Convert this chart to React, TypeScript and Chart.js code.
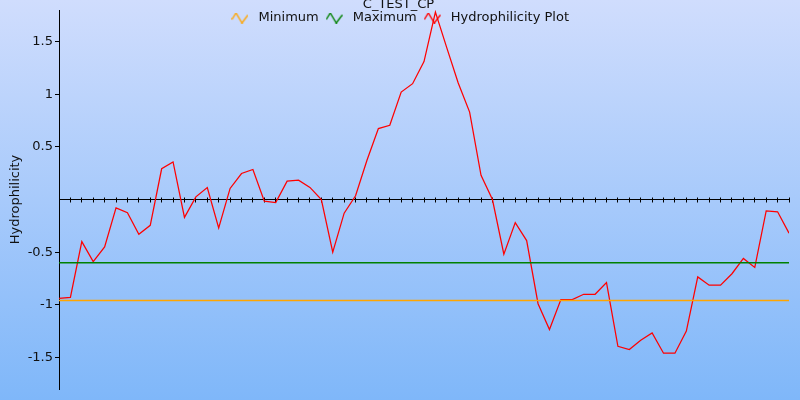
import React, { useEffect, useRef } from "react";
import { Chart, registerables } from "chart.js";

Chart.register(...registerables);

// ---- data ----
const chartTitle = "C_TEST_CP";
const yAxisTitle = "Hydrophilicity";
const seriesLabels = ["Minimum", "Maximum", "Hydrophilicity Plot"];
const seriesColors = ["#ffa500", "#008000", "#ff0000"];

const positions = [
  0, 1, 2, 3, 4, 5, 6, 7, 8, 9, 10, 11, 12, 13, 14, 15, 16, 17, 18, 19, 20,
  21, 22, 23, 24, 25, 26, 27, 28, 29, 30, 31, 32, 33, 34, 35, 36, 37, 38, 39,
  40, 41, 42, 43, 44, 45, 46, 47, 48, 49, 50, 51, 52, 53, 54, 55, 56, 57, 58,
  59, 60, 61, 62, 63, 64,
];

const hydrophilicity = [
  -0.94, -0.93, -0.4, -0.59, -0.45, -0.08, -0.125, -0.33, -0.245, 0.292,
  0.357, -0.17, 0.025, 0.114, -0.27, 0.105, 0.247, 0.285, -0.016, -0.03,
  0.174, 0.183, 0.115, 0.0, -0.5, -0.13, 0.035, 0.373, 0.674, 0.705, 1.02,
  1.1, 1.31, 1.78, 1.44, 1.107, 0.83, 0.23, 0.0, -0.52, -0.22, -0.39, -0.99,
  -1.235, -0.95, -0.95, -0.9, -0.9, -0.79, -1.395, -1.425, -1.336, -1.267,
  -1.46, -1.46, -1.25, -0.735, -0.814, -0.814, -0.705, -0.56, -0.645, -0.108,
  -0.117, -0.32,
];

const thresholdPositions = [0, 64];
const minimumLine = [-0.96, -0.96];
const maximumLine = [-0.6, -0.6];

const yTickValues = [-1.5, -1, -0.5, 0.5, 1, 1.5];
const yMin = -1.8;
const yMax = 1.8;
const xMin = 0;
const xMax = 64;

const FONT = "DejaVu Sans";
const TEXT = "#111111";

function makeIcon(color: string): HTMLCanvasElement {
  const c = document.createElement("canvas");
  c.width = 17;
  c.height = 11;
  const ctx = c.getContext("2d")!;
  ctx.strokeStyle = color;
  ctx.lineWidth = 1.4;
  ctx.beginPath();
  ctx.moveTo(0.5, 7);
  ctx.lineTo(4.5, 0.5);
  ctx.lineTo(10.5, 10.5);
  ctx.lineTo(16.5, 2.5);
  ctx.stroke();
  return c;
}

const backgroundPlugin = {
  id: "bgGradient",
  beforeDraw(chart: any) {
    const { ctx, width, height } = chart;
    const g = ctx.createLinearGradient(0, 0, 0, height);
    g.addColorStop(0, "#d0ddfd");
    g.addColorStop(1, "#7fb7f9");
    ctx.save();
    ctx.fillStyle = g;
    ctx.fillRect(0, 0, width, height);
    ctx.restore();
  },
};

// Legend overlaps the plot area (as in the reference): it takes only 2px of
// layout space, but its drawing/clip box is extended after layout.
const legendOverlayPlugin = {
  id: "legendOverlay",
  afterLayout(chart: any) {
    const lg = chart.legend;
    if (lg) {
      lg.bottom = lg.top + 26;
      lg.height = 26;
    }
  },
};

export default function App() {
  const ref = useRef<HTMLCanvasElement | null>(null);

  useEffect(() => {
    if (!ref.current) return;
    const icons = seriesColors.map(makeIcon);
    const toXY = (xs: number[], ys: number[]) =>
      xs.map((x, i) => ({ x, y: ys[i] }));

    const chart = new Chart(ref.current, {
      type: "line",
      data: {
        datasets: [
          {
            label: seriesLabels[0],
            data: toXY(thresholdPositions, minimumLine),
            borderColor: seriesColors[0],
            backgroundColor: seriesColors[0],
            borderWidth: 1.5,
            pointRadius: 0,
            pointStyle: icons[0] as any,
          },
          {
            label: seriesLabels[1],
            data: toXY(thresholdPositions, maximumLine),
            borderColor: seriesColors[1],
            backgroundColor: seriesColors[1],
            borderWidth: 1.5,
            pointRadius: 0,
            pointStyle: icons[1] as any,
          },
          {
            label: seriesLabels[2],
            data: toXY(positions, hydrophilicity),
            borderColor: seriesColors[2],
            backgroundColor: seriesColors[2],
            borderWidth: 1.25,
            pointRadius: 0,
            tension: 0,
            pointStyle: icons[2] as any,
          },
        ],
      },
      options: {
        animation: false,
        responsive: false,
        events: [],
        layout: { padding: { top: 0, left: 8, right: 11, bottom: 11 } },
        font: { family: FONT, size: 13 } as any,
        plugins: {
          tooltip: { enabled: false },
          title: {
            display: true,
            text: chartTitle,
            color: TEXT,
            font: { family: FONT, size: 13, weight: "normal", lineHeight: "10px" } as any,
            padding: { top: 0, bottom: -2 } as any,
          },
          legend: {
            display: true,
            position: "top",
            align: "center",
            maxHeight: 2,
            labels: {
              usePointStyle: true,
              pointStyleWidth: 24,
              padding: 3.5,
              color: TEXT,
              font: { family: FONT, size: 13 },
              generateLabels: (c: any) => {
                const items = (Chart.defaults.plugins.legend.labels as any).generateLabels(c);
                items.forEach((it: any) => {
                  it.pointStyle = icons[it.datasetIndex];
                });
                return items;
              },
            },
          },
        },
        scales: {
          x: {
            type: "linear",
            axis: "x",
            min: xMin,
            max: xMax,
            position: { y: 0 } as any,
            ticks: { display: false, stepSize: 1 },
            grid: {
              drawOnChartArea: false,
              drawTicks: true,
              tickLength: 2.5,
              color: "#000",
              lineWidth: 1,
            },
            border: { display: true, color: "#000", width: 1 },
          },
          x2: {
            type: "linear",
            axis: "x",
            min: xMin,
            max: xMax,
            position: { y: 0 } as any,
            ticks: { display: false, stepSize: 1 },
            grid: {
              drawOnChartArea: false,
              drawTicks: true,
              tickLength: -2.5,
              color: "#000",
              lineWidth: 1,
            },
            border: { display: false },
          },
          y: {
            type: "linear",
            position: "left",
            min: yMin,
            max: yMax,
            afterFit: (s: any) => {
              s.width = 51;
            },
            afterBuildTicks: (s: any) => {
              s.ticks = yTickValues.map((v) => ({ value: v }));
            },
            ticks: {
              color: TEXT,
              font: { family: FONT, size: 13 },
              padding: 2,
              callback: (v: any) => String(v),
            },
            grid: {
              drawOnChartArea: false,
              drawTicks: true,
              tickLength: 4,
              color: "#000",
            },
            border: { display: true, color: "#000", width: 1 },
            title: {
              display: true,
              text: yAxisTitle,
              color: TEXT,
              font: { family: FONT, size: 13 },
              padding: { top: 0, bottom: 0 },
            },
          },
        },
      } as any,
      plugins: [backgroundPlugin, legendOverlayPlugin],
    });
    return () => chart.destroy();
  }, []);

  return (
    <div style={{ position: "fixed", left: 0, top: 0, width: 800, height: 400 }}>
      <canvas ref={ref} width={800} height={400} style={{ display: "block" }} />
    </div>
  );
}
